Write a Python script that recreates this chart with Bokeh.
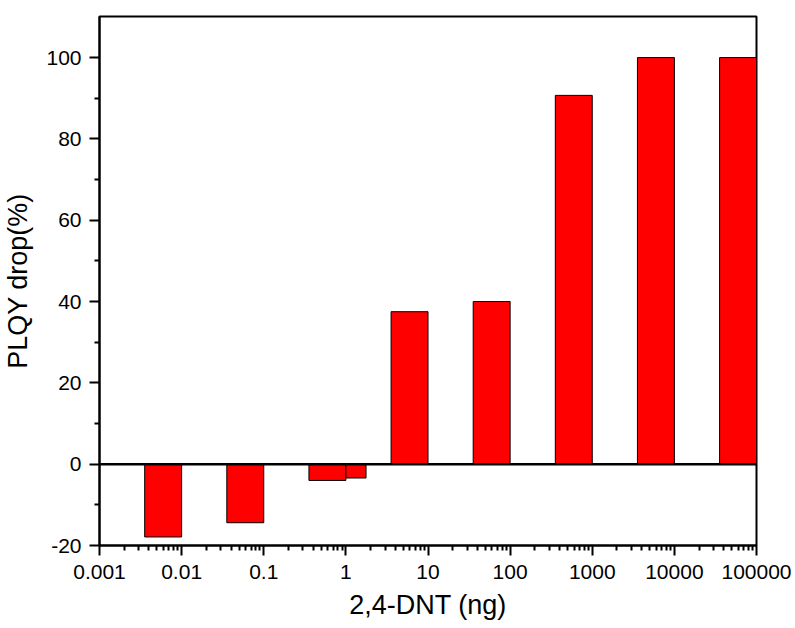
from bokeh.plotting import figure
from bokeh.models import FixedTicker, Span
from bokeh.embed import file_html
from bokeh.resources import INLINE

# data: bar spans on log x (ng) and PLQY drop (%)
bar_left = [0.00355, 0.0355, 0.355, 1.0, 3.55, 35.5, 355, 3550, 35500]
bar_right = [0.01, 0.1, 1.0, 1.76, 10, 100, 1000, 10000, 100000]
plqy_drop = [-17.9, -14.4, -4.0, -3.4, 37.5, 40.0, 90.7, 100.0, 100.0]

x_ticks = [0.001, 0.01, 0.1, 1, 10, 100, 1000, 10000, 100000]
x_tick_labels = ["0.001", "0.01", "0.1", "1", "10", "100", "1000", "10000", "100000"]
y_ticks = [-20, 0, 20, 40, 60, 80, 100]
y_tick_labels = ["-20", "0", "20", "40", "60", "80", "100"]

FONT = "Liberation Sans"

p = figure(width=795, height=628, x_axis_type="log",
           x_range=(0.001, 100000), y_range=(-20, 110.1),
           output_backend="svg", toolbar_location=None,
           min_border_left=98, min_border_right=39,
           min_border_top=16, min_border_bottom=83)
p.background_fill_color = "white"
p.border_fill_color = "white"
p.grid.visible = False
p.outline_line_color = "black"
p.outline_line_width = 2

p.quad(left=bar_left, right=bar_right, bottom=0, top=plqy_drop,
       fill_color="#FF0000", line_color="black", line_width=1)

p.add_layout(Span(location=0, dimension="width", line_color="black", line_width=2.5))

minor_x = [m * 10.0 ** k for k in range(-3, 5) for m in range(2, 10)]
p.xaxis.ticker = FixedTicker(ticks=x_ticks, minor_ticks=minor_x)
p.xaxis.major_label_overrides = {t: l for t, l in zip(x_ticks, x_tick_labels)}
p.yaxis.ticker = FixedTicker(ticks=y_ticks, minor_ticks=[-10, 10, 30, 50, 70, 90])
p.yaxis.major_label_overrides = {t: l for t, l in zip(y_ticks, y_tick_labels)}

for ax in (p.xaxis[0], p.yaxis[0]):
    ax.axis_line_width = 2
    ax.axis_line_color = "black"
    ax.major_tick_line_width = 2
    ax.minor_tick_line_width = 2
    ax.major_tick_out = 10
    ax.major_tick_in = 0
    ax.minor_tick_out = 5
    ax.minor_tick_in = 0
    ax.major_label_text_font = FONT
    ax.major_label_text_font_size = "21px"
    ax.major_label_text_color = "black"
    ax.axis_label_text_font = FONT
    ax.axis_label_text_font_size = "27px"
    ax.axis_label_text_font_style = "normal"
    ax.axis_label_text_color = "black"

p.xaxis.axis_label = "2,4-DNT (ng)"
p.yaxis.axis_label = "PLQY drop(%)"
p.xaxis.major_label_standoff = 9
p.yaxis.major_label_standoff = 8
p.xaxis.axis_label_standoff = 8
p.yaxis.axis_label_standoff = 10

open("out.html", "w").write(file_html(p, INLINE))
